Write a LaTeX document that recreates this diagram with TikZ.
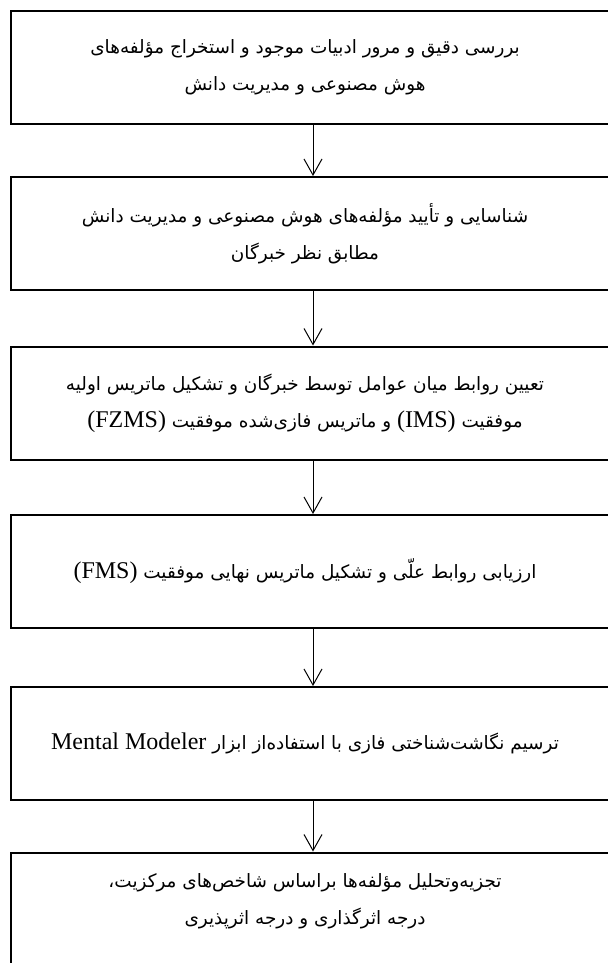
\documentclass[tikz,border=0pt]{standalone}
\usepackage{fontspec}
\usepackage{tikz}
\usetikzlibrary{arrows.meta, positioning}
\TeXXeTstate=1
\newfontfamily\farsifont[Script=Arabic]{DejaVu Sans}
\newfontfamily\latinfont{Liberation Serif}
\newcommand{\fa}[1]{{\farsifont\beginR #1\endR}\hspace*{8pt}}
\newcommand{\enword}[1]{\beginL{\latinfont\fontsize{12}{18.5}\selectfont #1}\endL{}}

\begin{document}
\begin{tikzpicture}[x=0.5pt, y=-0.5pt,
    stagebox/.style={rectangle, draw, line width=1pt, minimum width=302pt, minimum height=56.5pt, align=center, inner sep=0pt, font=\fontsize{9.2}{18.5}\selectfont},
    arr/.style={-{Straight Barb[length=8pt, width=9pt]}, line width=0.5pt}]

  \useasboundingbox (0,0) rectangle (608,963);

  % Stage 1
  \node[stagebox] (s1) at (313, 67.5)
    {\fa{بررسی دقیق و مرور ادبیات موجود و استخراج مؤلفه‌های}\\\fa{هوش مصنوعی و مدیریت دانش}};

  % Stage 2
  \node[stagebox] (s2) at (313, 233.5)
    {\fa{شناسایی و تأیید مؤلفه‌های هوش مصنوعی و مدیریت دانش}\\\fa{مطابق نظر خبرگان}};

  % Stage 3
  \node[stagebox] (s3) at (313, 403)
    {\fa{تعیین روابط میان عوامل توسط خبرگان و تشکیل ماتریس اولیه}\\\fa{موفقیت \enword{(IMS)} و ماتریس فازی‌شده موفقیت \enword{(FZMS)}}};

  % Stage 4
  \node[stagebox] (s4) at (313, 571.5)
    {\fa{ارزیابی روابط علّی و تشکیل ماتریس نهایی موفقیت \enword{(FMS)}}};

  % Stage 5
  \node[stagebox] (s5) at (313, 743.5)
    {\fa{ترسیم نگاشت‌شناختی فازی با استفاده‌از ابزار \enword{Mental Modeler}}};

  % Stage 6
  \node[stagebox, text depth=10pt] (s6) at (313, 909)
    {\fa{تجزیه‌وتحلیل مؤلفه‌ها براساس شاخص‌های مرکزیت،}\\\fa{درجه اثرگذاری و درجه اثرپذیری}};

  \draw[arr] (s1) -- (s2);
  \draw[arr] (s2) -- (s3);
  \draw[arr] (s3) -- (s4);
  \draw[arr] (s4) -- (s5);
  \draw[arr] (s5) -- (s6);
\end{tikzpicture}
\end{document}
